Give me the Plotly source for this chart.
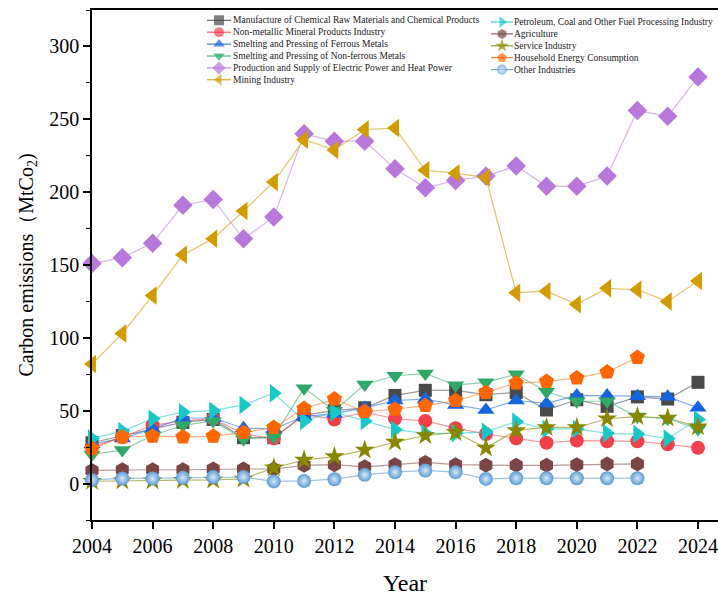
import plotly.graph_objects as go

years = list(range(2004, 2025))

names = [
    "Manufacture of Chemical Raw Materials and Chemical Products",
    "Non-metallic Mineral Products Industry",
    "Smelting and Pressing of Ferrous Metals",
    "Smelting and Pressing of Non-ferrous Metals",
    "Production and Supply of Electric Power and Heat Power",
    "Mining Industry",
    "Petroleum, Coal and Other Fuel Processing Industry",
    "Agriculture",
    "Service Industry",
    "Household Energy Consumption",
    "Other Industries",
]

chemical = [28, 33, 37.5, 42, 44, 31.5, 31.5, 47, 50, 52, 60.5, 64, 64, 61, 62.5, 50.5, 57.5, 53, 59.5, 58, 69.5]
nonmetal = [25, 32, 40, 43, 44.5, 34, 31, 47.5, 44, 49, 44.5, 43, 38, 34, 31, 28, 29.5, 29, 29, 27, 24.5]
ferrous = [27, 31, 37.5, 45, 45, 38, 37.5, 46, 48, 52, 57, 58, 54, 50.5, 57, 55, 60.5, 60.5, 60, 59.5, 52]
nonferrous = [20, 23, 33, 40, 43, 30.5, 32, 65.5, 50, 68, 74, 75.5, 67.5, 69.5, 75, 63, 56.5, 56.5, 46, 44.5, 37.5]
electric = [151, 155, 165, 191, 195, 168, 183, 240, 235, 235, 216, 203, 208, 211, 218, 204, 204, 211, 256, 252, 279]
mining = [82, 103, 129, 157, 168, 187, 207, 236, 229, 243, 244, 215, 213, 210, 131, 132, 123, 134, 133, 125, 139]
petroleum = [31, 36, 44.5, 49, 50, 54, 62, 43, 49, 43, 37, 34.5, 34.5, 35.5, 42.5, 37.5, 37.5, 34.5, 34, 31, 44]
agriculture = [9, 9.5, 9.5, 9.5, 10, 10, 10, 12.5, 13, 11.5, 13, 14.5, 13, 12.5, 12.5, 12.5, 13, 13.5, 13.5]
service = [1.6, 2, 2, 2.3, 2.5, 3.2, 10.8, 16.2, 18.5, 23, 28.5, 33, 35, 24.5, 36.5, 38.5, 38.5, 44.5, 46, 45, 39]
household = [24, 32, 32.5, 32, 32.5, 35, 38.5, 51.5, 58, 49.5, 51, 53.5, 57, 62.5, 69, 70, 72.5, 76.5, 86.5]
other = [2.5, 3.5, 3.5, 4, 4.5, 4.5, 1.5, 1.8, 3, 6, 7.8, 9, 7.8, 3.2, 3.7, 3.7, 3.7, 3.7, 3.7]

series_values = [chemical, nonmetal, ferrous, nonferrous, electric, mining,
                 petroleum, agriculture, service, household, other]

marker_colors = ["#4a4a4a", "#f2404a", "#1565e0", "#30a868", "#b877db", "#d39b00",
                 "#18c8c8", "#7b4545", "#888800", "#ff6600", "#5b9bd5"]
line_colors = ["rgba(74,74,74,0.55)", "rgba(242,64,74,0.55)", "rgba(21,101,224,0.55)",
               "rgba(48,168,104,0.55)", "rgba(184,119,219,0.55)", "rgba(211,155,0,0.6)",
               "rgba(24,200,200,0.55)", "rgba(123,69,69,0.55)", "rgba(136,136,0,0.6)",
               "rgba(255,102,0,0.5)", "rgba(91,155,213,0.6)"]
symbols = ["square", "circle", "triangle-up", "triangle-down", "diamond", "triangle-left",
           "triangle-right", "hexagon", "star", "pentagon", "circle"]
sizes = [13, 14, 15, 15, 15, 16, 16, 15, 15, 16, 14]

FONT = "Liberation Serif, Times New Roman, serif"

fig = go.Figure()

for i, (nm, vals) in enumerate(zip(names, series_values)):
    xs = years[:len(vals)]
    mk = dict(symbol=symbols[i], size=sizes[i], color=marker_colors[i], line=dict(width=0))
    if i == 10:
        mk["gradient"] = dict(type="radial", color="#d8e8f7")
    fig.add_trace(go.Scatter(
        x=xs, y=vals, name=nm, mode="lines+markers",
        line=dict(color=line_colors[i], width=1.2),
        marker=mk, cliponaxis=False, showlegend=False,
    ))

# Compact two-column legend drawn on an overlay axis measured in pixels
L_PLOT, R_PLOT, T_PLOT, B_PLOT = 92, 718, 10, 520
col_line_x = [(207, 219, 231), (491, 502, 513)]
col_text_x = [231, 512]
col_row0 = [20.3, 22.0]
row_step = 11.9
for i, nm in enumerate(names):
    c = 0 if i < 6 else 1
    r = i if i < 6 else i - 6
    yy = col_row0[c] + r * row_step
    x0, xm, x1 = col_line_x[c]
    mk = dict(symbol=symbols[i], size=[0, 10, 0], color=marker_colors[i], line=dict(width=0))
    if i == 10:
        mk["gradient"] = dict(type="radial", color="#d8e8f7")
    fig.add_trace(go.Scatter(
        x=[x0, xm, x1], y=[yy, yy, yy], mode="lines+markers",
        line=dict(color=marker_colors[i], width=1), marker=mk,
        xaxis="x2", yaxis="y2", showlegend=False, hoverinfo="skip", cliponaxis=False,
    ))
    fig.add_annotation(x=col_text_x[c], y=yy, xref="x2", yref="y2", text=nm,
                       showarrow=False, xanchor="left", yanchor="middle",
                       font=dict(family=FONT, size=9.5, color="#222222"))

fig.update_layout(
    width=718, height=601,
    margin=dict(l=L_PLOT, r=0, t=T_PLOT, b=601 - B_PLOT),
    paper_bgcolor="white", plot_bgcolor="white",
    font=dict(family=FONT, color="black"),
    xaxis=dict(
        range=[2004, 2024.66], tickmode="array", tickvals=list(range(2004, 2025, 2)),
        showgrid=False, zeroline=False, showline=True, linecolor="black", linewidth=1.5,
        mirror=True, ticks="outside", ticklen=7, tickwidth=1.5, tickcolor="black",
        tickfont=dict(family=FONT, size=20, color="black"),
        title=dict(text="Year", font=dict(family=FONT, size=24, color="black"), standoff=18),
    ),
    yaxis=dict(
        range=[-25, 325], tickmode="array", tickvals=[0, 50, 100, 150, 200, 250, 300],
        showgrid=False, zeroline=False, showline=True, linecolor="black", linewidth=1.5,
        ticks="outside", ticklen=7, tickwidth=1.5, tickcolor="black",
        minor=dict(tickvals=[-25, 25, 75, 125, 175, 225, 275, 325], ticks="outside",
                   ticklen=4, tickwidth=1.2, tickcolor="black", showgrid=False),
        tickfont=dict(family=FONT, size=20, color="black"),
        title=dict(text="Carbon emissions（MtCo<sub>2</sub>)",
                   font=dict(family=FONT, size=20, color="black"), standoff=10),
    ),
    xaxis2=dict(domain=[0, 1], range=[L_PLOT, R_PLOT], visible=False, fixedrange=True,
                overlaying="x"),
    yaxis2=dict(domain=[0, 1], range=[B_PLOT, T_PLOT], visible=False, fixedrange=True,
                overlaying="y"),
)

fig.write_html(
    "out.html",
    config={"displayModeBar": False},
    post_script="document.body.style.margin='0';document.body.style.overflow='hidden';",
)
